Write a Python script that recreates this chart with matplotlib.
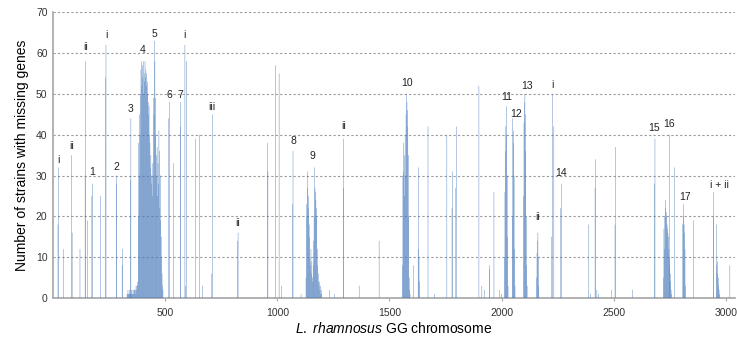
import numpy as np
from matplotlib import pyplot as plt

plt.rcParams['font.family'] = ['Liberation Sans', 'DejaVu Sans']
plt.rcParams['mathtext.fontset'] = 'custom'
plt.rcParams['mathtext.it'] = 'Liberation Sans:italic'
plt.rcParams['mathtext.rm'] = 'Liberation Sans'

# isolated genes: position on chromosome, number of strains missing it
single_pos = [22, 24, 46, 83, 85, 120, 143, 145, 153, 173, 175, 212, 234, 236,
              282, 284, 308, 310, 345, 347, 516, 518, 536, 567, 569, 588, 590,
              594, 636, 652, 666, 708, 710,
              823, 825, 956, 958, 993, 1008, 1018, 1068, 1070, 1106, 1234, 1256,
              1294, 1296, 1365, 1454,
              1608, 1628, 1630, 1632, 1634, 1672, 1702, 1756, 1779, 1781, 1796,
              1798, 1899, 1912, 1925, 1945, 1947, 1966, 1990, 2000,
              2224, 2226, 2233, 2264, 2266,
              2389, 2396, 2417, 2419, 2425, 2432, 2489, 2506, 2508, 2585,
              2682, 2684, 2750, 2770, 2855, 2944, 2946, 3018]
single_val = [18, 32, 12, 35, 16, 12, 30, 58, 19, 25, 28, 25, 54, 62,
              28, 30, 8, 12, 29, 44, 44, 48, 33, 42, 48, 62, 3,
              58, 39, 40, 3, 6, 45,
              14, 16, 38, 31, 57, 55, 3, 23, 36, 1, 2, 1,
              27, 39, 3, 14,
              8, 12, 32, 10, 4, 42, 1, 40, 22, 31, 27,
              42, 52, 3, 2, 8, 7, 26, 2, 1,
              15, 50, 42, 22, 28,
              18, 1, 27, 34, 2, 1, 2, 18, 37, 2,
              28, 39, 40, 32, 19, 20, 26, 8]

# dense regions: first gene, values for every second gene
cluster_start = [330, 1128, 1558, 2013, 2048, 2098, 2156, 2722, 2808, 2958]
cluster_vals = [
    [1, 1, 2, 1, 1, 2, 1, 1, 1, 2, 1, 2, 1, 1, 2, 1, 2, 2, 1, 2, 3, 2, 3, 4, 3,
     20, 38, 30, 45, 40, 50, 56, 58, 52, 57, 54, 58, 50, 55, 53, 58, 54, 56,
     52, 55, 50, 53, 48, 45, 47, 40, 38, 32, 35, 30, 28, 33, 25, 30, 49, 45,
     63, 58, 40, 49, 35, 30, 37, 25, 33, 28, 41, 36, 22, 30, 19, 15, 10, 6, 3, 2],
    [5, 23, 20, 31, 27, 25, 22, 18, 15, 10, 8, 12, 6, 9, 5, 4, 8, 14, 20, 32,
     27, 26, 24, 22, 20, 8, 12, 4, 6, 3, 4, 2, 3, 1, 2, 1],
    [8, 30, 38, 31, 25, 35, 40, 30, 45, 50, 48, 46, 42, 35, 20, 5, 2, 1],
    [10, 26, 36, 42, 47, 40, 30, 15, 3],
    [20, 44, 38, 41, 30, 12, 3],
    [25, 43, 48, 50, 45, 36, 20, 8, 3],
    [5, 11, 14, 16, 10, 3],
    [5, 17, 12, 20, 22, 24, 21, 20, 18, 17, 16, 15, 12, 8, 10, 6, 4, 2, 1],
    [18, 23, 20, 18, 16, 12, 3],
    [18, 8, 9, 6, 5, 3, 2, 1],
]

# labels of the regions
label_text = ['i', 'ii', 'ii', '1', 'i', '2', '3', '4', '5', '6', '7', 'i', 'iii',
              'ii', '8', '9', 'ii', '10', '11', '12', '13', 'ii', 'i', '14',
              '15', '16', '17', 'i + ii']
label_pos = [24, 83, 145, 173, 236, 284, 347, 399, 454, 517, 566, 588, 710,
             825, 1070, 1155, 1294, 1578, 2022, 2065, 2114, 2160, 2226, 2263,
             2681, 2745, 2817, 2971]
label_y = [33.8, 37.2, 61.5, 30.9, 64.5, 32.1, 46.3, 60.7, 64.7, 49.8, 49.8, 64.5,
           46.8, 18.4, 38.4, 34.7, 42.1, 52.7, 49.3, 45.1, 52.0, 19.8, 52.3,
           30.7, 41.7, 42.7, 24.7, 27.6]

pos = list(single_pos)
val = list(single_val)
for start, vals in zip(cluster_start, cluster_vals):
    for k, v in enumerate(vals):
        pos.append(start + 2 * k)
        val.append(v)

fig = plt.figure(figsize=(7.37, 3.41), dpi=100)
ax = fig.add_axes([0.072, 0.126, 0.925, 0.838])

bars = ax.bar(pos, val, width=1.9, color='#4f7fbd', linewidth=0, zorder=3)
for b in bars:
    b.set_snap(False)

for t, x, y in zip(label_text, label_pos, label_y):
    ax.text(x, y, t, ha='center', va='center', fontsize=7.5, color='#222222', zorder=4)

ax.set_xlim(0, 3040)
ax.set_ylim(0, 70)
ax.set_yticks(range(0, 71, 10))
ax.set_xticks(range(500, 3001, 500))
ax.yaxis.grid(True, linestyle=(0, (2, 2)), color='#999999', linewidth=0.8, zorder=0)
for s in ['top', 'right']:
    ax.spines[s].set_visible(False)
for s in ['left', 'bottom']:
    ax.spines[s].set_color('#a6a6a6')
    ax.spines[s].set_linewidth(1.2)
ax.tick_params(axis='y', length=0, labelsize=7.5, colors='#333333', pad=4)
ax.tick_params(axis='x', length=2, labelsize=7.5, colors='#333333', pad=5)
ax.tick_params(axis='x', color='#a6a6a6')
ax.set_ylabel('Number of strains with missing genes', fontsize=10, labelpad=5)
ax.set_xlabel(r'$\mathit{L.\ rhamnosus}$ GG chromosome', fontsize=10, labelpad=2)

plt.savefig('out.png', dpi=100)
